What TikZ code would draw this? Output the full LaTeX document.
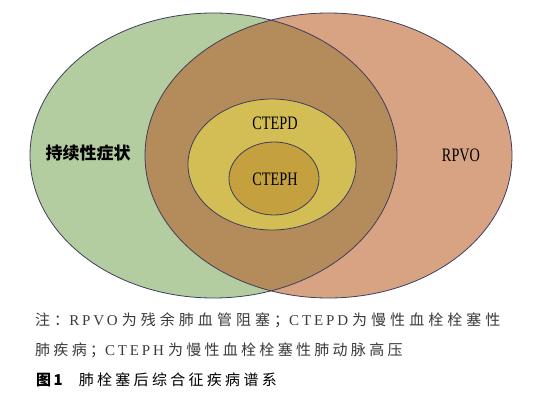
\documentclass[tikz,border=0pt]{standalone}
\usepackage{fontspec}
\setmainfont{Liberation Serif}
\newfontfamily\cjk{Noto Sans CJK SC}
\newfontfamily\cjkcap[LetterSpace=22]{Noto Sans CJK SC}
\newfontfamily\cjkwide[LetterSpace=27]{Noto Sans CJK SC}
\newfontfamily\latcap[LetterSpace=19]{Liberation Serif}
\usepackage{graphicx}
\definecolor{symgreen}{HTML}{B4CDA0}
\definecolor{rpvored}{HTML}{D8A382}
\definecolor{overlap}{HTML}{B48B5B}
\definecolor{ctepdyel}{HTML}{D2BE55}
\definecolor{ctephyel}{HTML}{C5A03E}
\definecolor{edgeblue}{HTML}{3E3E5E}
\definecolor{captext}{HTML}{3A3A3A}
\newcommand{\lat}[1]{{\latcap #1}\hspace{4pt}}
\newcommand{\narrow}[1]{\scalebox{0.75}[1]{#1}}

\begin{document}
\begin{tikzpicture}[x=1pt,y=-1pt,
   ring/.style={draw=edgeblue,line width=0.8pt},
   label/.style={inner sep=0pt,font=\fontsize{19}{19}\selectfont},
   note/.style={inner sep=0pt,anchor=west,text=captext,font=\fontsize{15}{15}\selectfont\cjkcap}]
   \useasboundingbox (0,0) rectangle (544,401);
   % the two big circles and their overlap
   \fill[symgreen] (213.5,155.5) ellipse [x radius=183.5,y radius=142.5];
   \fill[rpvored] (328.5,155.5) ellipse [x radius=183.5,y radius=142.5];
   \begin{scope}
      \clip (213.5,155.5) ellipse [x radius=183.5,y radius=142.5];
      \fill[overlap] (328.5,155.5) ellipse [x radius=183.5,y radius=142.5];
   \end{scope}
   \draw[ring] (213.5,155.5) ellipse [x radius=183.5,y radius=142.5];
   \draw[ring] (328.5,155.5) ellipse [x radius=183.5,y radius=142.5];
   % nested
   \draw[ring,fill=ctepdyel] (272,164.5) ellipse [x radius=84,y radius=65.5];
   \draw[ring,fill=ctephyel] (274,178.5) ellipse [x radius=45,y radius=36.5];
   \node[label,font=\fontsize{17}{17}\selectfont\cjk\bfseries] (sym) at (88,153) {持续性症状};
   \node[label] (rpvo) at (461,155) {\narrow{RPVO}};
   \node[label] (ctepd) at (275,123) {\narrow{CTEPD}};
   \node[label] (cteph) at (275,179) {\narrow{CTEPH}};
   % caption
   \node[note,font=\fontsize{15}{15}\selectfont\cjkwide] (line1) at (35,320) {注：\lat{RPVO}为残余肺血管阻塞；\lat{CTEPD}为慢性血栓栓塞性};
   \node[note] (line2) at (35,350) {肺疾病；\lat{CTEPH}为慢性血栓栓塞性肺动脉高压};
   \node[note,text=black] (fig) at (36,380) {{\cjk\bfseries 图\,1}\hspace{16pt}肺栓塞后综合征疾病谱系};
\end{tikzpicture}
\end{document}
